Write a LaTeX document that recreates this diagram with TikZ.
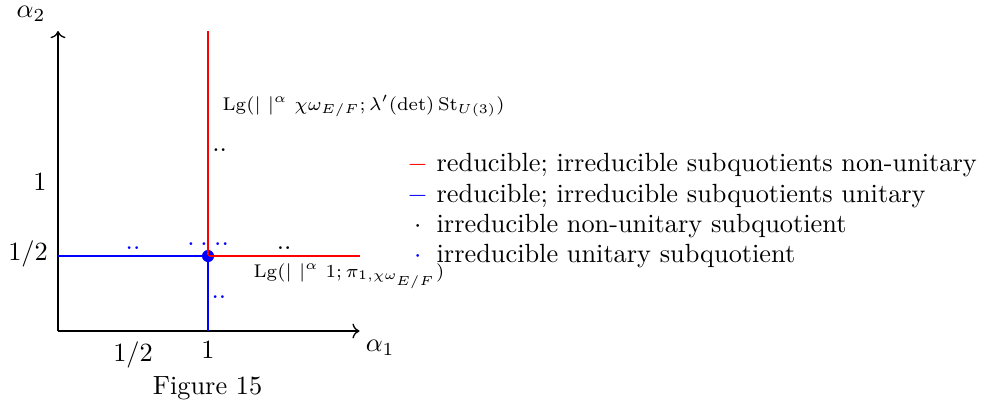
\documentclass[tikz,border=0pt]{standalone}
\usetikzlibrary{arrows.meta}

\begin{document}
\begin{tikzpicture}[x=57pt,y=57pt,line width=.5pt,
  lglbl/.style={anchor=base west,inner sep=0pt,font=\scriptsize},
  dotlbl/.style={anchor=center,inner sep=0pt},
  legrow/.style={anchor=base west,inner sep=0pt}]
\path[use as bounding box] (-0.387,-0.513) rectangle (6.18,2.207);
% axes
\coordinate (o) at (0,0);
\coordinate (xend) at (2.01,0);
\coordinate (yend) at (0,2.0);
\draw[->] (o) -- (xend);
\draw[->] (o) -- (yend);
\node (alpha1) at (2.147,-0.113) {$\alpha_1$};
\node[inner sep=0pt] (alpha2) at (-0.18,2.115) {$\alpha_2$};
\node (xhalf) at (0.5,-0.16) {$1/2$};
\node (xone) at (1,-0.127) {$1$};
\node (yone) at (-0.12,0.993) {$1$};
\node (yhalf) at (-0.2,0.513) {$1/2$};
% reducibility lines
\coordinate (pleft) at (0,0.5);
\coordinate (pbot) at (1,0);
\coordinate (ptop) at (1,2.0);
\coordinate (pright) at (2.01,0.5);
\node[circle,fill=blue,inner sep=0pt,minimum size=4.6pt] (pt) at (1,0.5) {};
\draw[red] (pt.center) -- (ptop);
\draw[red] (pt.center) -- (pright);
\draw[blue] (pleft) -- (pt.center);
\draw[blue] (pbot) -- (pt.center);
% labels
\node[lglbl] (lgtop) at (1.093,1.473) {$\mathrm{Lg}(|\ |^{\alpha}\ \chi\omega_{E/F};\lambda'(\det)\,\mathrm{St}_{U(3)})$};
\node[lglbl] (lgright) at (1.3,0.36) {$\mathrm{Lg}(|\ |^{\alpha}\ 1;\pi_{1,\chi\omega_{E/F}})$};
% dots
\node[dotlbl] (d1) at (1.077,1.207) {..};
\node[dotlbl] (d2) at (1.507,0.555) {..};
\node[dotlbl,blue] (d3) at (0.5,0.553) {..};
\node[dotlbl,blue] (d4) at (0.93,0.58) {.\kern2.2pt.};
\node[dotlbl,blue] (d5) at (1.09,0.58) {..};
\node[dotlbl,blue] (d6) at (1.073,0.225) {..};
% legend
\node[legrow] (leg1) at (2.325,1.063) {\textcolor{red}{$-$} reducible; irreducible subquotients non-unitary};
\node[legrow] (leg2) at (2.325,0.856) {\textcolor{blue}{$-$} reducible; irreducible subquotients unitary};
\node[legrow] (leg3) at (2.325,0.656) {\makebox[7.78pt]{$\cdot$} irreducible non-unitary subquotient};
\node[legrow] (leg4) at (2.325,0.456) {\makebox[7.78pt]{\textcolor{blue}{$\cdot$}} irreducible unitary subquotient};
\node (caption) at (0.997,-0.38) {Figure 15};
\end{tikzpicture}
\end{document}
